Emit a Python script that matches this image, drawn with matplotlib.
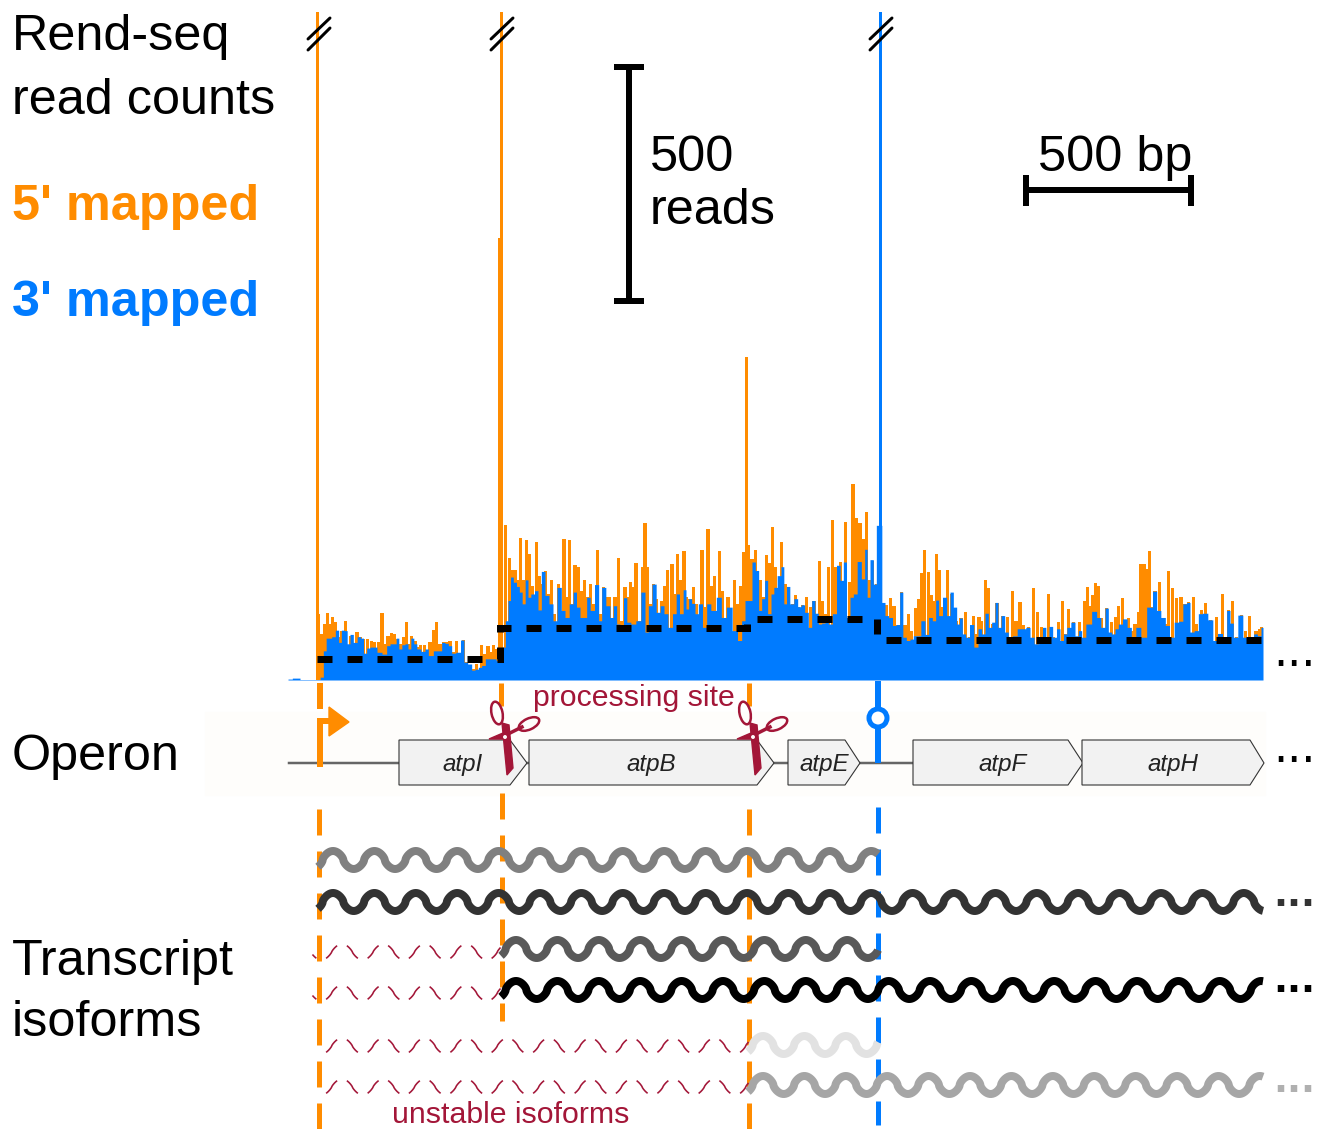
import numpy as np
import matplotlib
matplotlib.use("Agg")
import matplotlib.pyplot as plt
from matplotlib.patches import Polygon, Ellipse, Rectangle

plt.rcParams['font.family'] = ['Liberation Sans', 'DejaVu Sans']

ORANGE = '#ff8c00'
BLUE = '#007bff'
CRIMSON = '#a31638'
PX = 0.72  # one pixel in points at dpi 100

# rend-seq tracks, position = units of 1/3 pixel from the left of the track, y = reads
# the right half of the track is listed from RIGHT_START
RIGHT_START = 1440

five_x_left = [116,125,135,142,150,157,166,175,185,196,205,212,221,231,240,250,262,275,284,297,306,315,324,335,342,352,361,370,380,388,395,405,415,422,433,442,450,461,470,480,490,500,510,520,530,540,550,560,570,580,590,604,612,624,632,640,650,
               677,688,697,705,714,722,731,740,747,757,770,778,787,796,805,814,823,835,852,860,868,877,885,896,905,914,923,931,940,953,962,970,979,988,1005,1016,1025,1035,1043,1052,1061,1068,1078,1087,1095,1103,1112,1120,1130,1145,1155,1163,1176,1185,1193,1203,1212,1220,1230,1240,1250,1266,1274,1284,1293,1303,1318,1327,1344,1363,1372,1381,1390,1405,1416,1427]
five_y_left = [141,98,119,143,119,133,123,91,105,126,62,94,77,102,91,87,87,84,80,80,143,77,94,99,97,87,77,91,123,77,94,84,70,75,75,62,80,107,123,77,80,80,82,59,84,57,85,38,31,23,34,75,55,72,59,75,66,
               329,260,233,234,212,302,212,298,267,201,294,222,204,231,183,212,141,204,300,176,297,162,244,241,190,213,176,204,162,277,141,197,176,176,176,259,126,197,176,208,197,249,126,240,334,241,162,204,173,169,201,233,246,183,267,212,274,176,173,197,162,277,155,322,201,222,275,190,176,212,162,199,272,288,258,277]
five_x_right = [0,10,20,28,38,47,55,64,75,85,97,106,115,128,140,153,162,178,187,196,205,217,226,241,256,268,279,288,300,310,319,328,338,350,
                380,392,402,414,424,435,446,455,466,475,484,493,505,513,520,530,538,545,562,575,590,603,616,628,641,648,657,665,677,684,697,711,727,743,757,768,780,790,805,821,832,845,865,880,895,908,915,925,940,958,973,983,992,998,1006,1015,1025,1040,1055,1066,1076,1087,1105,1115,1125,1135,1143,1152,1160,1168,1178,1185,1198,1215,1226,1238,1250,1263,1275,1285,1300,1310,1324,1336,1352,1370,1388,1398,1405,1417,1430,1445,1457,1468,1478,1488,1498,1505]
five_y_right = [213,176,265,249,325,241,183,293,204,197,162,180,156,160,176,155,168,253,169,141,241,341,240,251,336,208,417,345,334,300,357,212,254,204,
                160,175,158,118,187,118,141,105,153,173,227,277,229,180,169,267,234,155,235,183,126,132,144,91,137,98,133,126,212,196,119,164,137,135,189,126,165,116,112,196,144,112,182,91,123,167,98,152,123,123,169,197,158,180,206,201,132,153,123,133,157,175,132,105,119,144,247,247,236,275,155,189,209,119,231,195,175,176,162,165,176,119,149,164,128,133,182,91,148,168,91,138,105,137,84,105,109,112]
five_spike_x = [111, 657, 665, 1398]
five_spike_y = [1420, 940, 1420, 687]

three_x_left = [24,50,70,100,116,125,135,142,150,160,172,180,188,198,205,215,225,238,246,255,265,275,285,297,315,325,335,345,352,361,370,380,388,397,406,415,430,440,450,470,480,490,500,510,520,535,548,556,570,580,590,600,610,622,632,642,655,665,672,680,688,695,705,714,722,731,740,748,757,770,778,790,800,814,824,838,850,860,875,884,895,905,914,926,935,952,960,970,985,995,1005,1015,1025,1036,1045,1060,1075,1090,1100,1110,1122,1135,1146,1158,1170,1185,1192,1205,1214,1222,1230,1240,1250,1260,1275,1285,1300,1318,1330,1348,1365,1380,1390,1400,1412,1420,1432]
three_y_left = [2,4,1,1,1,6,62,89,89,92,106,80,106,105,77,97,80,92,89,57,68,70,70,59,55,73,77,77,89,66,75,77,66,89,77,66,61,66,52,62,62,80,78,73,57,59,85,38,34,21,23,27,31,45,45,45,41,48,70,126,169,219,208,199,187,162,213,176,183,190,149,231,180,162,126,197,148,133,162,187,155,133,133,176,148,203,126,197,158,133,158,119,109,175,123,119,126,187,102,158,204,144,158,141,112,141,183,141,192,151,173,163,141,162,112,162,148,176,133,155,105,84,126,169,169,251,233]
three_x_right = [0,10,18,28,38,45,58,68,75,84,95,108,118,128,140,150,160,170,180,190,200,210,224,235,246,254,265,275,285,298,310,318,325,335,345,353,361,370,380,392,403,414,424,433,445,455,465,475,490,500,512,522,532,540,555,565,575,585,595,602,612,622,635,648,660,670,680,690,700,710,718,728,740,750,765,778,790,805,815,830,842,853,862,872,884,895,905,916,925,940,950,960,970,985,1005,1015,1030,1040,1050,1060,1070,1080,1095,1108,1120,1135,1150,1170,1185,1195,1210,1222,1235,1250,1262,1275,1285,1295,1310,1320,1335,1352,1365,1380,1395,1405,1415,1425,1442,1455,1465,1475,1487,1497,1509]
three_y_right = [148,173,212,141,183,197,222,241,162,199,162,173,156,160,144,112,169,142,119,121,126,119,141,244,212,251,133,176,183,252,215,278,176,256,204,329,329,165,137,133,116,118,187,91,84,87,94,94,126,97,133,126,170,137,176,137,187,155,119,132,98,91,118,70,109,98,142,112,123,165,112,137,102,91,94,109,109,112,91,77,84,112,91,114,91,109,84,98,112,123,94,105,91,119,146,133,112,153,102,98,109,119,130,112,84,112,91,155,189,148,133,116,91,123,125,162,165,102,105,141,142,128,84,99,91,148,121,91,138,91,84,84,98,94,112]
three_spike_x = [1800]
three_spike_y = [1420]

# mean coverage per transcription unit
unit_edges = [111, 660, 1400, 1790, 2949]
unit_means = [45, 111, 130, 85]

# genes: name, left, shoulder, tip, label centre
genes = ['atpI', 'atpB', 'atpE', 'atpF', 'atpH']
gene_left = [399, 529, 788, 913, 1082]
gene_shoulder = [510, 757, 845, 1068, 1250]
gene_tip = [527, 774, 860, 1083, 1264]
gene_label_x = [463, 651, 824, 1003, 1173]

# isoforms
iso_start = [318, 318, 501, 501, 748, 748]
iso_end = [878, 1263, 878, 1263, 878, 1263]
iso_y = [860, 902, 949, 990, 1045, 1085]
iso_color = ['#808080', '#333333', '#595959', '#000000', '#e2e2e2', '#a6a6a6']

unstable_start = [313, 313, 325, 325]
unstable_end = [500, 500, 748, 748]
unstable_y = [952, 993, 1046, 1087]

WAVE_PERIOD = 41.4


def wave(start, end, centre, crest, amp, power):
    x = np.arange(start, end + 0.25, 0.25)
    s = np.cos(2 * np.pi * (x - crest) / WAVE_PERIOD)
    return x, centre - amp * np.sign(s) * np.abs(s) ** power, s


fig = plt.figure(figsize=(13.23, 11.29), dpi=100)

# track axes, placed in pixels of the picture
track = fig.add_axes([280 / 1323, 1 - 680 / 1129, (1263 - 280) / 1323, 668 / 1129])
five_x = np.concatenate([five_x_left, np.array(five_x_right) + RIGHT_START])
five_y = np.concatenate([five_y_left, five_y_right])
three_x = np.concatenate([three_x_left, np.array(three_x_right) + RIGHT_START])
three_y = np.concatenate([three_y_left, three_y_right])

track.bar(five_x, five_y, width=10, color=ORANGE, linewidth=0)
track.bar(five_spike_x, five_spike_y, width=9, color=ORANGE, linewidth=0)
track.fill_between(three_x, 0, three_y, step='mid', color=BLUE, linewidth=0)
track.bar(three_spike_x, three_spike_y, width=9, color=BLUE, linewidth=0)
track.stairs(unit_means, unit_edges, baseline=None, color='black', linewidth=7 * PX,
             linestyle=(0, (15 / 7, 15 / 7)))
track.set_xlim(0, 2949)
track.set_ylim(0, 1421)
track.axis('off')

# everything else is drawn in picture pixels
ax = fig.add_axes([0, 0, 1, 1])
ax.set_xlim(0, 1323)
ax.set_ylim(1129, 0)
ax.axis('off')
ax.patch.set_alpha(0)

# labels
big = dict(fontsize=36.3, va='center', ha='left')
ax.text(12, 37, 'Rend-seq', **big)
ax.text(12, 101, 'read counts', **big)
ax.text(12, 207, "5' mapped", color=ORANGE, fontweight='bold', **big)
ax.text(12, 303, "3' mapped", color=BLUE, fontweight='bold', **big)
ax.text(650, 158, '500', **big)
ax.text(650, 211, 'reads', **big)
ax.text(1038, 158, '500 bp', **big)
ax.text(12, 757, 'Operon', **big)
ax.text(12, 962, 'Transcript', **big)
ax.text(12, 1023, 'isoforms', **big)
ax.text(634, 698, 'processing site', color=CRIMSON, fontsize=21.8, ha='center', va='center')
ax.text(511, 1115, 'unstable isoforms', color=CRIMSON, fontsize=21.8, ha='center', va='center')

# scale bars
ax.plot([629, 629], [67, 301], color='black', lw=6 * PX, solid_capstyle='butt')
ax.plot([614, 644], [67, 67], color='black', lw=6 * PX, solid_capstyle='butt')
ax.plot([614, 644], [301, 301], color='black', lw=6 * PX, solid_capstyle='butt')
ax.plot([1026, 1191], [190, 190], color='black', lw=6 * PX, solid_capstyle='butt')
ax.plot([1026, 1026], [175, 206], color='black', lw=6 * PX, solid_capstyle='butt')
ax.plot([1191, 1191], [175, 206], color='black', lw=6 * PX, solid_capstyle='butt')

# axis break marks
for bx in [319, 502, 881]:
    ax.plot([bx - 11, bx + 11], [39, 18], color='black', lw=3 * PX, solid_capstyle='round', zorder=4)
    ax.plot([bx - 11, bx + 11], [50, 28], color='black', lw=3 * PX, solid_capstyle='round', zorder=4)

# operon
ax.add_patch(Rectangle((205, 712), 1060, 83, color='#fefdfb', zorder=0))
ax.plot([289, 400], [763, 763], color='#666666', lw=2.5 * PX, zorder=1)
ax.plot([527, 529], [763, 763], color='#666666', lw=2.5 * PX, zorder=1)
ax.plot([774, 788], [763, 763], color='#666666', lw=2.5 * PX, zorder=1)
ax.plot([860, 913], [763, 763], color='#666666', lw=2.5 * PX, zorder=1)
for name, l, s, t, lx in zip(genes, gene_left, gene_shoulder, gene_tip, gene_label_x):
    ax.add_patch(Polygon([[l, 740], [s, 740], [t, 763], [s, 785], [l, 785]], closed=True,
                         facecolor='#f2f2f2', edgecolor='#333333', lw=1.1 * PX, zorder=2))
    ax.text(lx, 764, name, fontsize=17.4, style='italic', ha='center', va='center', color='#222222', zorder=3)

# continuation dots, DejaVu has the square ones
dots = dict(ha='center', va='baseline', family='DejaVu Sans')
ax.text(1294, 665.5, '...', fontsize=32, color='black', **dots)
ax.text(1294, 762.5, '...', fontsize=32, color='black', **dots)
ax.text(1294, 906.5, '...', fontsize=26.5, color='#333333', fontweight='bold', **dots)
ax.text(1294, 991.5, '...', fontsize=26.5, color='black', fontweight='bold', **dots)
ax.text(1294, 1092.5, '...', fontsize=26.5, color='#b0b0b0', fontweight='bold', **dots)

# promoter
ax.plot([320, 320], [683, 709], color=ORANGE, lw=6 * PX, solid_capstyle='butt', zorder=3)
ax.plot([320, 320, 330], [767, 721, 721], color=ORANGE, lw=6 * PX, solid_capstyle='butt',
        solid_joinstyle='miter', zorder=3)
ax.add_patch(Polygon([[329, 707], [349, 722], [329, 736]], color=ORANGE, zorder=3))
# processing site ticks and terminator
for px in [501, 749]:
    ax.plot([px, px], [683, 706], color=ORANGE, lw=5 * PX, solid_capstyle='butt', zorder=1)
ax.plot([878, 878], [681, 763], color=BLUE, lw=6 * PX, solid_capstyle='butt', zorder=3)
ax.add_patch(Ellipse((878, 718), 18, 18, facecolor='white', edgecolor=BLUE, lw=5 * PX, zorder=4))


# scissors
def scissors(dx):
    ax.add_patch(Polygon([[502 + dx, 723], [509 + dx, 725], [513 + dx, 768], [507 + dx, 775]],
                         color=CRIMSON, zorder=5))
    ax.add_patch(Polygon([[489 + dx, 739], [503 + dx, 733], [503 + dx, 739]], color=CRIMSON, zorder=5))
    ax.plot([510 + dx, 522 + dx], [733, 727], color=CRIMSON, lw=3.5 * PX, zorder=5)
    ax.add_patch(Ellipse((497 + dx, 713), 11, 23, angle=-12, facecolor='none', edgecolor=CRIMSON,
                         lw=2.5 * PX, zorder=5))
    ax.add_patch(Ellipse((529 + dx, 724), 22, 11, angle=-25, facecolor='none', edgecolor=CRIMSON,
                         lw=2.5 * PX, zorder=5))
    ax.add_patch(Ellipse((505 + dx, 737), 2.5, 2.5, color='white', zorder=6))


scissors(0)
scissors(248)

# site lines through the isoforms
site_dash = (0, (26 / 5, 16 / 5))
ax.plot([319, 319], [809, 1129], color=ORANGE, lw=5 * PX, ls=site_dash, zorder=2)
ax.plot([501.5, 501.5], [793, 1021], color=ORANGE, lw=5 * PX, ls=site_dash, zorder=2)
ax.plot([749, 749], [809, 1129], color=ORANGE, lw=5 * PX, ls=site_dash, zorder=2)
ax.plot([878, 878], [807, 1125], color=BLUE, lw=5 * PX, ls=site_dash, zorder=2)

# transcripts
for st, en, cy, col in zip(iso_start, iso_end, iso_y, iso_color):
    x, y, _ = wave(st, en, cy, st + 15, 9, 0.65)
    ax.plot(x, y, color=col, lw=8 * PX, solid_capstyle='butt', zorder=3)

for st, en, cy in zip(unstable_start, unstable_end, unstable_y):
    x, y, s = wave(st, en, cy, 342, 8, 0.8)
    y = np.where(np.abs(s) < 0.69, y, np.nan)
    ax.plot(x, y, color=CRIMSON, lw=1.6 * PX, zorder=3)

fig.savefig('out.png', dpi=100)
